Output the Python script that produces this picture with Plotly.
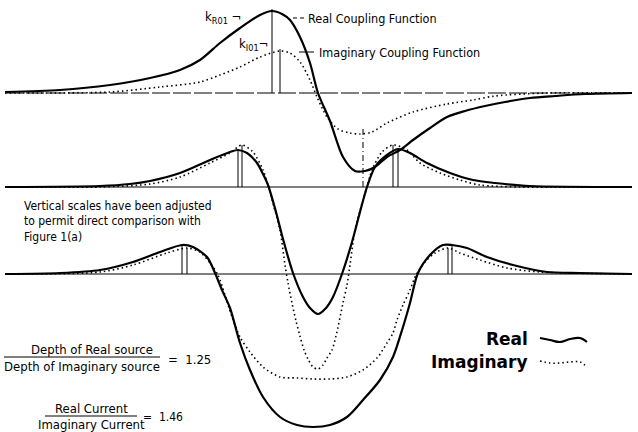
import numpy as np
import plotly.graph_objects as go

W, H = 638, 432

# Baselines of the three panels (distance from the bottom edge)
BASE_TOP = 339
BASE_MID = 245
BASE_BOT = 158

# --- Top panel: coupling functions (height above baseline) ---
cpl_x_real = [5, 60, 110, 150, 180, 200, 220, 240, 260, 272, 282, 290, 300, 310, 318, 330,
              343, 355, 365, 375, 387, 400, 413, 430, 447, 465, 485, 505, 530, 555, 585, 632]
cpl_h_real = [1, 3, 8, 15, 23, 33, 50, 65, 78, 82, 79, 73, 56, 30, 0, -28,
              -64, -78, -78, -74, -64, -57, -47, -35, -24, -18, -13, -9, -5, -3, -1, 0]

cpl_x_imag = [5, 110, 160, 200, 220, 240, 260, 280, 290, 300, 310, 317, 327, 338, 350, 360,
              372, 387, 413, 447, 473, 495, 547, 632]
cpl_h_imag = [0, 1, 6, 11, 18, 26, 36, 42, 40, 31, 13, -4, -24, -36, -40, -41,
              -39, -30, -19, -11, -7, -3, 0, 0]

# --- Middle panel ---
mid_x_real = [5, 100, 130, 150, 180, 210, 230, 238, 247, 257, 263, 268, 276, 283, 293, 303,
              310, 318, 326, 333, 343, 352, 360, 367, 375, 387, 398, 410, 427, 450, 473, 495,
              530, 632]
mid_h_real = [0, 1, 3, 6, 14, 27, 35, 37, 34, 24, 13, 2, -25, -52, -86, -110,
              -121, -127, -121, -110, -84, -55, -25, 0, 20, 32, 38, 34, 24, 14, 7, 4,
              1, 0]

mid_x_imag = [5, 100, 150, 180, 210, 230, 242, 253, 263, 268, 274, 280, 285, 288, 292, 296,
              300, 304, 308, 313, 318, 323, 327, 332, 336, 343, 347, 350, 355, 361, 367, 372,
              382, 393, 407, 420, 440, 460, 480, 520, 632]
mid_h_imag = [0, 0, 3, 10, 24, 34, 42, 35, 17, 2, -20, -43, -78, -96, -116, -134,
              -149, -163, -172, -180, -182, -178, -171, -163, -149, -116, -98, -78, -43, -20, 0, 17,
              35, 42, 37, 24, 14, 7, 2, 0, 0]

# --- Bottom panel ---
bot_x_real = [5, 60, 100, 133, 160, 182, 193, 207, 215, 222, 230, 240, 250, 263, 280, 297,
              313, 330, 347, 363, 380, 393, 403, 410, 418, 430, 443, 452, 467, 487, 513, 547,
              580, 632]
bot_h_real = [0, 1, 4, 12, 22, 29, 27, 17, 1, -16, -34, -69, -96, -123, -143, -151,
              -153, -151, -143, -126, -106, -83, -53, -29, 1, 19, 29, 29, 26, 17, 9, 2,
              1, 0]

bot_x_imag = [5, 100, 133, 167, 187, 200, 210, 218, 225, 232, 240, 250, 263, 280, 297, 313,
              330, 347, 363, 377, 387, 393, 397, 403, 410, 416, 425, 435, 448, 460, 480, 507,
              540, 632]
bot_h_imag = [0, 2, 9, 21, 26, 22, 11, -1, -21, -43, -63, -78, -93, -103, -104, -105,
              -105, -103, -96, -84, -69, -59, -46, -31, -16, -1, 12, 21, 26, 21, 14, 6,
              2, 0]

# Legend swatch shapes (small wiggles)
leg_dx = [0, 10, 20, 30, 40, 47]
leg_dy_real = [1, -1, -3, 0, 1, -3]
leg_dy_imag = [1, -1, -1, 0, 0, -5]

LABEL_FONT = "Liberation Sans Narrow, DejaVu Sans Condensed, Arial Narrow, sans-serif"
BOLD_FONT = "DejaVu Sans, Verdana, sans-serif"

SOLID = dict(color="black", width=2.2)
DOTTED = dict(color="black", width=1.6, dash="1.5px,3px")

fig = go.Figure()


def add_curve(xs, hs, base, style):
    fig.add_trace(go.Scatter(
        x=xs, y=[base + h for h in hs], mode="lines",
        line=dict(shape="spline", smoothing=0.8, **style),
        hoverinfo="skip", showlegend=False))


def vline(x, y0, y1, dash="solid", width=1):
    fig.add_shape(type="line", x0=x, x1=x, y0=y0, y1=y1,
                  line=dict(color="black", width=width, dash=dash))


def hline(x0, x1, y, dash="solid", width=1):
    fig.add_shape(type="line", x0=x0, x1=x1, y0=y, y1=y,
                  line=dict(color="black", width=width, dash=dash))


def peak(xs, hs, lo, hi):
    pts = [(h, x) for x, h in zip(xs, hs) if lo <= x <= hi]
    h, x = max(pts)
    return x, h


# Baselines
hline(5, 632, BASE_TOP, dash="18px,3px")
hline(5, 632, BASE_MID)
hline(5, 632, BASE_BOT)

# Curves
add_curve(cpl_x_real, cpl_h_real, BASE_TOP, SOLID)
add_curve(cpl_x_imag, cpl_h_imag, BASE_TOP, DOTTED)
add_curve(mid_x_real, mid_h_real, BASE_MID, SOLID)
add_curve(mid_x_imag, mid_h_imag, BASE_MID, DOTTED)
add_curve(bot_x_real, bot_h_real, BASE_BOT, SOLID)
add_curve(bot_x_imag, bot_h_imag, BASE_BOT, DOTTED)

# Peak markers of the coupling functions
for xs, hs in ((cpl_x_real, cpl_h_real), (cpl_x_imag, cpl_h_imag)):
    px, ph = peak(xs, hs, 0, 320)
    vline(px, BASE_TOP, BASE_TOP + ph + 2)

# Dash-dot drop from the imaginary minimum to the middle baseline
imin = int(np.argmin(cpl_h_imag))
vline(cpl_x_imag[imin] + 3, BASE_MID, BASE_TOP + cpl_h_imag[imin] + 8, dash="6px,3px,1px,3px")

# Peak markers of the middle and bottom panels
for xs, hs, base in ((mid_x_real, mid_h_real, BASE_MID), (mid_x_imag, mid_h_imag, BASE_MID),
                     (bot_x_real, bot_h_real, BASE_BOT), (bot_x_imag, bot_h_imag, BASE_BOT)):
    for lo, hi in ((0, 318), (318, 640)):
        px, ph = peak(xs, hs, lo, hi)
        vline(px, base, base + ph)

# Leaders to the coupling-function labels
hline(293, 304, H - 18, dash="4px,3px")
hline(299, 314, H - 52)

annotations = [
    dict(x=203, y=H - 17, text="k<sub>R01</sub> ¬", size=13),
    dict(x=237, y=H - 44, text="k<sub>I01</sub>¬", size=13),
    dict(x=306, y=H - 18, text="Real Coupling Function", size=12.5),
    dict(x=317, y=H - 52, text="Imaginary Coupling Function", size=12.5),
    dict(x=22, y=H - 206, text="Vertical scales have been adjusted", size=12),
    dict(x=22, y=H - 221, text="to permit direct comparison with", size=12),
    dict(x=22, y=H - 237, text="Figure 1(a)", size=12),
    dict(x=166, y=H - 359, text="=  1.25", size=13),
    dict(x=141, y=H - 417, text="=  1.46", size=12),
]
centered = [
    dict(x=92, y=H - 349, text="Depth of Real source", size=13),
    dict(x=82, y=H - 366, text="Depth of Imaginary source", size=13),
    dict(x=91, y=H - 408, text="Real Current", size=13),
    dict(x=91, y=H - 424, text="Imaginary Current", size=13),
]
for a in annotations:
    fig.add_annotation(x=a["x"], y=a["y"], text=a["text"], showarrow=False,
                       xanchor="left", yanchor="middle",
                       font=dict(family=LABEL_FONT, size=a["size"], color="black"))
for a in centered:
    fig.add_annotation(x=a["x"], y=a["y"], text=a["text"], showarrow=False,
                       xanchor="center", yanchor="middle",
                       font=dict(family=LABEL_FONT, size=a["size"], color="black"))

# Fraction bars
hline(4, 160, H - 357)
hline(45, 137, H - 416)

# Legend
for name, ypix, dy, style in (("Real", 339, leg_dy_real, SOLID),
                              ("Imaginary", 362, leg_dy_imag, DOTTED)):
    fig.add_annotation(x=530, y=H - ypix, text="<b>%s</b>" % name, showarrow=False,
                       xanchor="right", yanchor="middle",
                       font=dict(family=BOLD_FONT, size=17, color="black"))
    fig.add_trace(go.Scatter(
        x=[540 + d for d in leg_dx], y=[H - ypix + v for v in dy], mode="lines",
        line=dict(shape="spline", **style), hoverinfo="skip", showlegend=False))

fig.update_layout(
    width=W, height=H,
    margin=dict(l=0, r=0, t=0, b=0),
    paper_bgcolor="white", plot_bgcolor="white",
    xaxis=dict(range=[0, W], visible=False, fixedrange=True),
    yaxis=dict(range=[0, H], visible=False, fixedrange=True),
    showlegend=False,
)

fig.write_html("out.html")
